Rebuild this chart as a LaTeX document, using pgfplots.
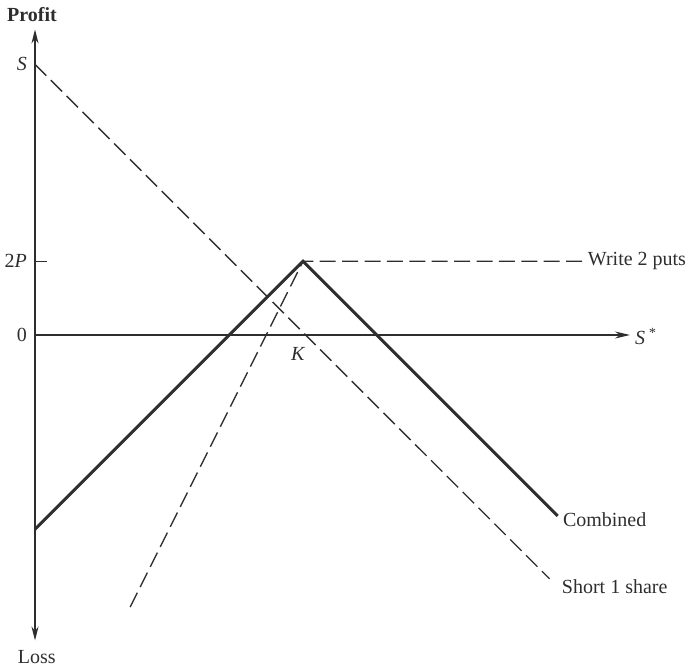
\documentclass[border=0pt]{standalone}
\usepackage{pgfplots}
\pgfplotsset{compat=1.18}
\usepackage{fontspec}
\setmainfont{Liberation Serif}
\usetikzlibrary{arrows.meta}
\definecolor{ink}{gray}{0.18}
\tikzset{lbl/.style={text=ink, inner sep=0pt, outer sep=0pt, font=\fontsize{10}{12}\selectfont}}
\begin{document}
\begin{tikzpicture}
\begin{axis}[
  scale only axis, width=297.5pt, height=305.5pt,
  xmin=0, xmax=22.2, ymin=-11.4, ymax=11.4,
  hide axis, clip=false,
]
\coordinate (bbtl) at (axis cs:-1.306,12.5);
\coordinate (bbbr) at (axis cs:24.40,-12.39);
% axes
\addplot[ink, line width=0.9pt, {Stealth[length=7pt,width=3.5pt]}-{Stealth[length=7pt,width=3.5pt]}] coordinates {(0,-11.4) (0,11.4)};
\addplot[ink, line width=0.8pt, -{Stealth[length=7.5pt,width=3.5pt]}] coordinates {(0,0) (22.2,0)};
% 2P tick
\addplot[ink, line width=0.7pt] coordinates {(0,2.75) (0.45,2.75)};
% Short 1 share
\addplot[ink, line width=0.7pt, dash pattern=on 8pt off 3.2pt] coordinates {(0,10.1) (19.2,-9.1)};
% Write 2 puts
\addplot[ink, line width=0.7pt, dash pattern=on 8pt off 3.2pt] coordinates {(3.55,-10.15) (10,2.75) (20.6,2.75)};
% Combined
\addplot[ink, line width=1.5pt] coordinates {(0,-7.25) (10,2.75) (19.5,-6.75)};
% labels
\node[lbl] at (axis cs:-0.11,11.94) {\bfseries Profit};
\node[lbl] at (axis cs:0.07,-12.0) {Loss};
\node[lbl, anchor=east] at (axis cs:-0.3,10.1) {\itshape S};
\node[lbl, anchor=east] at (axis cs:-0.3,2.75) {2\itshape P};
\node[lbl, anchor=east] at (axis cs:-0.3,0) {0};
\node[lbl, anchor=north] at (axis cs:9.8,-0.45) {\itshape K};
\node[lbl, anchor=west] at (axis cs:22.39,-0.05) {\itshape S\,\textsuperscript{*}};
\node[lbl, anchor=west] at (axis cs:20.63,2.75) {Write 2 puts};
\node[lbl, anchor=west] at (axis cs:19.7,-6.9) {Combined};
\node[lbl, anchor=west] at (axis cs:19.66,-9.4) {Short 1 share};
\end{axis}
\pgfresetboundingbox
\path[use as bounding box] (bbtl) rectangle (bbbr);
\end{tikzpicture}
\end{document}
